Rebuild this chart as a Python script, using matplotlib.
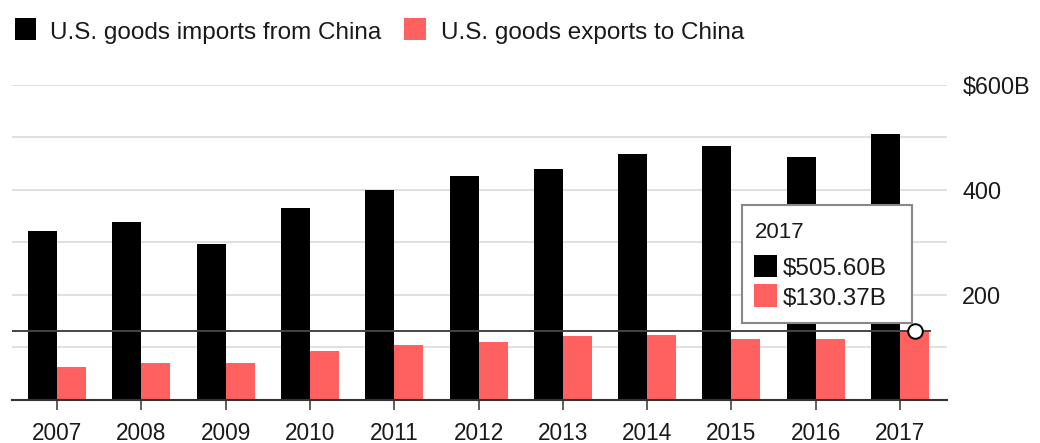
import matplotlib
matplotlib.use("Agg")
import matplotlib.pyplot as plt
from matplotlib.patches import Rectangle
import numpy as np

plt.rcParams['font.family'] = ['Liberation Sans', 'DejaVu Sans']

years = ['2007', '2008', '2009', '2010', '2011', '2012', '2013', '2014', '2015', '2016', '2017']
imports = [321.4, 337.8, 296.4, 365.0, 399.4, 425.6, 440.4, 468.5, 483.2, 462.6, 505.6]
exports = [62.9, 69.7, 69.5, 91.9, 104.1, 110.5, 121.7, 123.7, 115.9, 115.6, 130.37]
ytick_vals = [0, 100, 200, 300, 400, 500, 600]
ytick_labels = ['', '', '200', '', '400', '', '$600B']
legend_labels = ['U.S. goods imports from China', 'U.S. goods exports to China']
tooltip_year = '2017'
tooltip_values = ['$505.60B', '$130.37B']

BLACK = '#000000'
RED = '#ff6060'
TXT = '#1a1a1a'

W, H = 1040, 443
fig = plt.figure(figsize=(W / 100, H / 100), dpi=100)


def px(x, y):
    return (x / W, 1 - y / H)


ax_left, ax_right, ax_top, ax_bot = 12, 947, 85, 399.5
ax = fig.add_axes([ax_left / W, 1 - ax_bot / H, (ax_right - ax_left) / W, (ax_bot - ax_top) / H])

x = np.arange(len(years))
w = 0.344
ax.bar(x - w / 2, imports, w, color=BLACK, zorder=2, linewidth=0)
ax.bar(x + w / 2, exports, w, color=RED, zorder=2, linewidth=0)

ax.set_xlim(-0.534, 10.557)
ax.set_ylim(0, 600)

ax.set_yticks(ytick_vals)
ax.set_yticklabels(ytick_labels)
ax.yaxis.tick_right()
ax.tick_params(axis='y', length=0, pad=11, labelsize=16.8, labelcolor=TXT)
ax.grid(axis='y', color='#dddddd', linewidth=1.3, zorder=0)
ax.set_axisbelow(True)

ax.set_xticks(x)
ax.set_xticklabels(years)
ax.tick_params(axis='x', direction='out', length=7.5, width=1.2, color='#444444',
               pad=8.5, labelsize=16.3, labelcolor=TXT)

for s in ['left', 'right', 'top']:
    ax.spines[s].set_visible(False)
ax.spines['bottom'].set_color('#333333')
ax.spines['bottom'].set_linewidth(1.5)
ax.spines['bottom'].set_zorder(3)

# crosshair and hover marker
ax.hlines(exports[-1], -0.534, x[-1] + w + 0.02, color='#444444', linewidth=1.4, zorder=4)
ax.plot(x[-1] + w / 2, exports[-1], 'o', ms=10.5, mfc='white', mec='black', mew=1.4, zorder=6)

# legend
fig.add_artist(Rectangle(px(15, 40), 21 / W, 22 / H, transform=fig.transFigure,
                         facecolor=BLACK, edgecolor='none'))
fig.text(*px(50, 38.5), legend_labels[0], fontsize=17.5, color=TXT, va='baseline', ha='left')
fig.add_artist(Rectangle(px(404, 40), 22 / W, 22 / H, transform=fig.transFigure,
                         facecolor=RED, edgecolor='none'))
fig.text(*px(441, 38.5), legend_labels[1], fontsize=17.5, color=TXT, va='baseline', ha='left')

# tooltip
fig.add_artist(Rectangle(px(742, 323), 170 / W, 118 / H, transform=fig.transFigure,
                         facecolor='white', edgecolor='#888888', linewidth=1.5, zorder=10))
fig.text(*px(755, 238), tooltip_year, fontsize=16, color=TXT, va='baseline', ha='left', zorder=11)
fig.add_artist(Rectangle(px(754, 277), 23 / W, 22 / H, transform=fig.transFigure,
                         facecolor=BLACK, edgecolor='none', zorder=11))
fig.text(*px(783, 275), tooltip_values[0], fontsize=17.5, color=TXT, va='baseline', ha='left', zorder=11)
fig.add_artist(Rectangle(px(754, 307), 23 / W, 23 / H, transform=fig.transFigure,
                         facecolor=RED, edgecolor='none', zorder=11))
fig.text(*px(783, 305), tooltip_values[1], fontsize=17.5, color=TXT, va='baseline', ha='left', zorder=11)

fig.savefig('out.png', dpi=100, facecolor='white')
